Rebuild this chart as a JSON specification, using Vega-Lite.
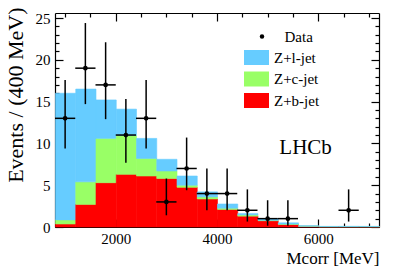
{
  "$schema": "https://vega.github.io/schema/vega-lite/v6.json",
  "width": 324,
  "height": 214,
  "autosize": {"type": "none"},
  "padding": {"left": 55, "top": 13, "right": 20, "bottom": 44},
  "background": "white",
  "config": {
    "view": {"stroke": null},
    "font": "Liberation Serif",
    "axis": {
      "grid": false,
      "domainColor": "black",
      "tickColor": "black",
      "labelColor": "black",
      "titleColor": "black",
      "labelFont": "Liberation Serif",
      "titleFont": "Liberation Serif",
      "labelFontSize": 15,
      "titleFontWeight": "normal",
      "domainWidth": 1.2,
      "tickWidth": 1.2,
      "zindex": 1,
      "labelFlush": false,
      "labelOverlap": false
    },
    "legend": {
      "labelFont": "Liberation Serif",
      "labelFontSize": 15,
      "labelColor": "black",
      "padding": 0
    }
  },
  "datasets": {
    "mc": [
      {"x0": 800, "x1": 1200, "comp": "Z+b-jet", "n": 0.36},
      {"x0": 800, "x1": 1200, "comp": "Z+c-jet", "n": 0.49},
      {"x0": 800, "x1": 1200, "comp": "Z+l-jet", "n": 15.15},
      {"x0": 1200, "x1": 1600, "comp": "Z+b-jet", "n": 2.7},
      {"x0": 1200, "x1": 1600, "comp": "Z+c-jet", "n": 2.7},
      {"x0": 1200, "x1": 1600, "comp": "Z+l-jet", "n": 11.1},
      {"x0": 1600, "x1": 2000, "comp": "Z+b-jet", "n": 5.3},
      {"x0": 1600, "x1": 2000, "comp": "Z+c-jet", "n": 5.3},
      {"x0": 1600, "x1": 2000, "comp": "Z+l-jet", "n": 4.6},
      {"x0": 2000, "x1": 2400, "comp": "Z+b-jet", "n": 6.3},
      {"x0": 2000, "x1": 2400, "comp": "Z+c-jet", "n": 4.65},
      {"x0": 2000, "x1": 2400, "comp": "Z+l-jet", "n": 3.15},
      {"x0": 2400, "x1": 2800, "comp": "Z+b-jet", "n": 6.1},
      {"x0": 2400, "x1": 2800, "comp": "Z+c-jet", "n": 2.1},
      {"x0": 2400, "x1": 2800, "comp": "Z+l-jet", "n": 2.4},
      {"x0": 2800, "x1": 3200, "comp": "Z+b-jet", "n": 5.8},
      {"x0": 2800, "x1": 3200, "comp": "Z+c-jet", "n": 0.9},
      {"x0": 2800, "x1": 3200, "comp": "Z+l-jet", "n": 1.4},
      {"x0": 3200, "x1": 3600, "comp": "Z+b-jet", "n": 4.75},
      {"x0": 3200, "x1": 3600, "comp": "Z+c-jet", "n": 0.25},
      {"x0": 3200, "x1": 3600, "comp": "Z+l-jet", "n": 1.1},
      {"x0": 3600, "x1": 4000, "comp": "Z+b-jet", "n": 3.35},
      {"x0": 3600, "x1": 4000, "comp": "Z+c-jet", "n": 0.25},
      {"x0": 3600, "x1": 4000, "comp": "Z+l-jet", "n": 0.6},
      {"x0": 4000, "x1": 4400, "comp": "Z+b-jet", "n": 2.1},
      {"x0": 4000, "x1": 4400, "comp": "Z+c-jet", "n": 0.15},
      {"x0": 4000, "x1": 4400, "comp": "Z+l-jet", "n": 0.5},
      {"x0": 4400, "x1": 4800, "comp": "Z+b-jet", "n": 1.3},
      {"x0": 4400, "x1": 4800, "comp": "Z+c-jet", "n": 0.15},
      {"x0": 4400, "x1": 4800, "comp": "Z+l-jet", "n": 0.15},
      {"x0": 4800, "x1": 5200, "comp": "Z+b-jet", "n": 0.75},
      {"x0": 4800, "x1": 5200, "comp": "Z+c-jet", "n": 0.05},
      {"x0": 4800, "x1": 5200, "comp": "Z+l-jet", "n": 0.2},
      {"x0": 5200, "x1": 5600, "comp": "Z+b-jet", "n": 0.3},
      {"x0": 5200, "x1": 5600, "comp": "Z+c-jet", "n": 0.05},
      {"x0": 5200, "x1": 5600, "comp": "Z+l-jet", "n": 0.15},
      {"x0": 5600, "x1": 6000, "comp": "Z+b-jet", "n": 0.08},
      {"x0": 5600, "x1": 6000, "comp": "Z+c-jet", "n": 0.02},
      {"x0": 5600, "x1": 6000, "comp": "Z+l-jet", "n": 0.05},
      {"x0": 6000, "x1": 6400, "comp": "Z+b-jet", "n": 0.04},
      {"x0": 6000, "x1": 6400, "comp": "Z+c-jet", "n": 0.01},
      {"x0": 6000, "x1": 6400, "comp": "Z+l-jet", "n": 0.02},
      {"x0": 6400, "x1": 6800, "comp": "Z+b-jet", "n": 0.04},
      {"x0": 6400, "x1": 6800, "comp": "Z+c-jet", "n": 0.01},
      {"x0": 6400, "x1": 6800, "comp": "Z+l-jet", "n": 0.03},
      {"x0": 6800, "x1": 7200, "comp": "Z+b-jet", "n": 0.04},
      {"x0": 6800, "x1": 7200, "comp": "Z+c-jet", "n": 0.01},
      {"x0": 6800, "x1": 7200, "comp": "Z+l-jet", "n": 0.02}
    ],
    "obs": [
      {"kind": "Data", "x0": 800, "x1": 1200, "xc": 1000, "n": 13, "lo": 9.4, "hi": 17.6},
      {"kind": "Data", "x0": 1200, "x1": 1600, "xc": 1400, "n": 19, "lo": 14.7, "hi": 24.4},
      {"kind": "Data", "x0": 1600, "x1": 2000, "xc": 1800, "n": 17, "lo": 12.9, "hi": 22.1},
      {"kind": "Data", "x0": 2000, "x1": 2400, "xc": 2200, "n": 11, "lo": 7.7, "hi": 15.3},
      {"kind": "Data", "x0": 2400, "x1": 2800, "xc": 2600, "n": 13, "lo": 9.4, "hi": 17.6},
      {"kind": "Data", "x0": 2800, "x1": 3200, "xc": 3000, "n": 3, "lo": 1.4, "hi": 5.8},
      {"kind": "Data", "x0": 3200, "x1": 3600, "xc": 3400, "n": 7, "lo": 4.4, "hi": 10.7},
      {"kind": "Data", "x0": 3600, "x1": 4000, "xc": 3800, "n": 4, "lo": 2.0, "hi": 7.0},
      {"kind": "Data", "x0": 4000, "x1": 4400, "xc": 4200, "n": 4, "lo": 2.0, "hi": 7.0},
      {"kind": "Data", "x0": 4400, "x1": 4800, "xc": 4600, "n": 2, "lo": 0.65, "hi": 4.5},
      {"kind": "Data", "x0": 4800, "x1": 5200, "xc": 5000, "n": 1, "lo": 0.15, "hi": 3.2},
      {"kind": "Data", "x0": 5200, "x1": 5600, "xc": 5400, "n": 1, "lo": 0.15, "hi": 3.2},
      {"kind": "Data", "x0": 6400, "x1": 6800, "xc": 6600, "n": 2, "lo": 0.65, "hi": 4.5}
    ]
  },
  "layer": [
    {
      "data": {"name": "mc"},
      "mark": {"type": "bar", "strokeWidth": 0.6, "binSpacing": 0},
      "encoding": {
        "x": {
          "field": "x0", "type": "quantitative", "bin": {"binned": true},
          "scale": {"domain": [800, 7200], "nice": false, "zero": false},
          "axis": {
            "orient": "bottom",
            "values": [1000, 1500, 2000, 2500, 3000, 3500, 4000, 4500, 5000, 5500, 6000, 6500, 7000],
            "format": "d",
            "labelExpr": "datum.value % 2000 === 0 ? datum.label : ''",
            "tickSize": {"condition": {"test": "datum.value % 2000 === 0", "value": -8}, "value": -4},
            "labelPadding": 12,
            "title": "Mcorr [MeV]",
            "titleFontSize": 17,
            "titleAnchor": "end",
            "titlePadding": 0
          }
        },
        "x2": {"field": "x1"},
        "y": {
          "field": "n", "type": "quantitative", "stack": "zero",
          "scale": {"domain": [0, 25.6], "nice": false},
          "axis": {
            "orient": "left",
            "values": [0,1,2,3,4,5,6,7,8,9,10,11,12,13,14,15,16,17,18,19,20,21,22,23,24,25],
            "labelExpr": "datum.value % 5 === 0 ? datum.label : ''",
            "tickSize": {"condition": {"test": "datum.value % 5 === 0", "value": -8}, "value": -4},
            "labelPadding": 13,
            "title": "Events / (400 MeV)",
            "titleFontSize": 22,
            "titleAnchor": "end",
            "titleY": -6,
            "titlePadding": 8
          }
        },
        "color": {
          "field": "comp", "type": "nominal",
          "scale": {"domain": ["Z+l-jet", "Z+c-jet", "Z+b-jet"], "range": ["#66CCFF", "#99FF66", "#FF0000"]},
          "legend": {
            "orient": "none", "legendX": 194, "legendY": 37, "title": null,
            "symbolType": "M-1.667,-1H1.667V1H-1.667Z", "symbolSize": 225,
            "symbolStrokeWidth": 0, "symbolOpacity": 1,
            "labelOffset": 10, "rowPadding": 5.5
          }
        },
        "stroke": {
          "field": "comp", "type": "nominal",
          "scale": {"domain": ["Z+l-jet", "Z+c-jet", "Z+b-jet"], "range": ["#66CCFF", "#99FF66", "#FF0000"]},
          "legend": null
        },
        "order": {"field": "comp", "sort": "ascending"}
      }
    },
    {
      "data": {"name": "obs"},
      "mark": {"type": "rule", "color": "black", "strokeWidth": 1.5},
      "encoding": {
        "x": {
          "field": "xc", "type": "quantitative",
          "axis": {
            "orient": "top",
            "values": [1000, 1500, 2000, 2500, 3000, 3500, 4000, 4500, 5000, 5500, 6000, 6500, 7000],
            "labels": false, "title": null,
            "tickSize": {"condition": {"test": "datum.value % 2000 === 0", "value": -8}, "value": -4}
          }
        },
        "y": {
          "field": "lo", "type": "quantitative",
          "axis": {
            "orient": "right",
            "values": [0,1,2,3,4,5,6,7,8,9,10,11,12,13,14,15,16,17,18,19,20,21,22,23,24,25],
            "labels": false, "title": null,
            "tickSize": {"condition": {"test": "datum.value % 5 === 0", "value": -8}, "value": -4}
          }
        },
        "y2": {"field": "hi"}
      }
    },
    {
      "data": {"name": "obs"},
      "mark": {"type": "rule", "color": "black", "strokeWidth": 1.5},
      "encoding": {
        "x": {"field": "x0", "type": "quantitative", "axis": null},
        "x2": {"field": "x1"},
        "y": {"field": "n", "type": "quantitative", "axis": null}
      }
    },
    {
      "data": {"name": "obs"},
      "mark": {"type": "point", "filled": true, "color": "black", "size": 22, "opacity": 1},
      "encoding": {
        "x": {"field": "xc", "type": "quantitative", "axis": null},
        "y": {"field": "n", "type": "quantitative", "axis": null},
        "shape": {
          "field": "kind", "type": "nominal",
          "scale": {"range": ["circle"]},
          "legend": {
            "orient": "none", "legendX": 199.5, "legendY": 16, "title": null,
            "symbolSize": 20, "symbolFillColor": "black", "symbolStrokeColor": "black",
            "symbolStrokeWidth": 0, "labelOffset": 15
          }
        }
      }
    },
    {
      "data": {"values": [{}]},
      "mark": {"type": "text", "text": "LHCb", "font": "Liberation Serif", "fontSize": 21, "color": "black", "align": "center", "baseline": "middle"},
      "encoding": {
        "x": {"datum": 5750, "type": "quantitative", "axis": null},
        "y": {"datum": 9.4, "type": "quantitative", "axis": null}
      }
    }
  ],
  "resolve": {"axis": {"x": "independent", "y": "independent"}}
}
